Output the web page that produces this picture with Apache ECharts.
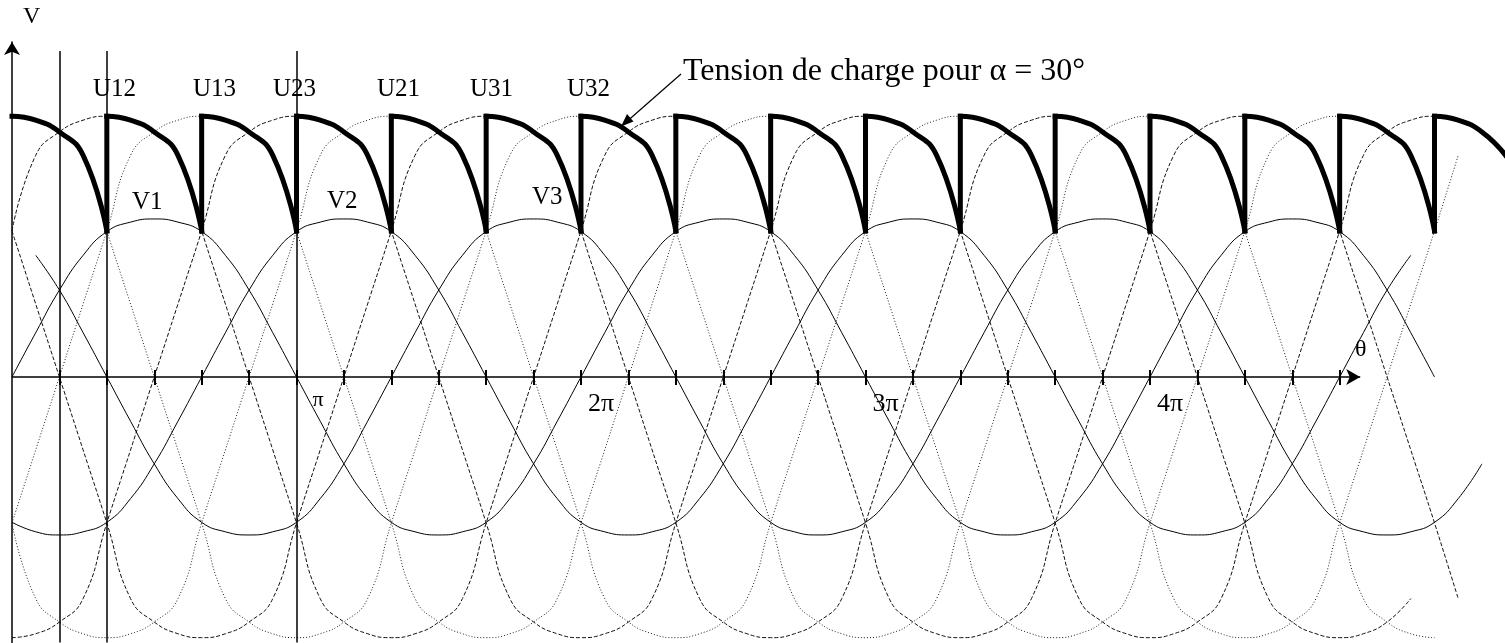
<!DOCTYPE html>
<html>
<head>
<meta charset="utf-8">
<title>Pont triphasé – tension de charge</title>
<script src="https://cdn.jsdelivr.net/npm/echarts@6/dist/echarts.min.js"></script>
<style>
  html, body { margin: 0; padding: 0; background: #ffffff; }
  #chart { width: 1505px; height: 643px; }
</style>
</head>
<body>
<div id="chart"></div>
<script>
// Shape of one quarter wave, read every 15° from the crest outwards (per unit of crest)
const lineProfile  = [1.00, 0.985, 0.94, 0.85, 0.56, 0.28, 0.00];
const phaseProfile = [1.00, 0.98, 0.92, 0.77, 0.55, 0.28, 0.00];
const lineCrestValue  = 1.65;   // line-voltage crest, in units of the phase crest
const phaseCrestValue = 1.00;

// Line voltages: crest angle (deg) in the first period and traced span (deg)
const lineNames  = ['U12', 'U13', 'U23', 'U21', 'U31', 'U32'];
const lineCrests = [60, 120, 180, 240, 300, 0];
const lineStarts = [0, 0, 0, 0, 0, 0];
const lineEnds   = [915, 900, 945, 915, 885, 900];

// Phase voltages
const phaseNames  = ['V1', 'V2', 'V3'];
const phaseCrests = [90, 210, 330];
const phaseStarts = [0, 0, 15];
const phaseEnds   = [900, 885, 930];

// Firing instants of the bridge for alpha = 30° (deg), and end of the load trace
const firingAngles = [60, 120, 180, 240, 300, 360, 420, 480, 540, 600, 660, 720, 780, 840, 900];
const loadEnd = 945;

// Axis ticks and labels (deg)
const tickAngles = [30, 60, 90, 120, 150, 180, 210, 240, 270, 300, 330, 360, 390, 420,
                    450, 480, 510, 540, 570, 600, 630, 660, 690, 720, 750, 780, 810, 840];
const tickLabelAngles = [180, 360, 540, 720];
const tickLabelTexts  = ['π', '2π', '3π', '4π'];
const thetaAxisEnd = 853;      // where the θ axis arrow sits (deg)

// Vertical construction lines (deg)
const markerAngles = [30, 60, 180];

// ---------------------------------------------------------------------------
const SERIF = '"Liberation Serif", "Times New Roman", "DejaVu Serif", serif';
const X_MAX = 945;
const Y_MIN = -1.68, Y_MAX = 2.12;

// value of a periodic wave (crest at `crest`) at a sample angle, using the quarter-wave table
function profileAt(profile, crest, angle) {
  const d = (((angle - crest) % 360) + 360) % 360;
  const at = (k) => profile[Math.round(k / 15)];
  if (d <= 90)  return at(d);
  if (d <= 180) return -at(180 - d);
  if (d <= 270) return -at(d - 180);
  return at(360 - d);
}

function trace(profile, crestValue, crest, from, to) {
  const pts = [];
  for (let a = from; a <= to; a += 15) pts.push([a, crestValue * profileAt(profile, crest, a)]);
  return pts;
}

const dashedLines = ['U12', 'U23', 'U31'];

const series = [];

lineNames.forEach((name, i) => {
  const dashed = dashedLines.indexOf(name) >= 0;
  series.push({
    name: name,
    type: 'line',
    data: trace(lineProfile, lineCrestValue, lineCrests[i], lineStarts[i], lineEnds[i]),
    smooth: 0.5,
    showSymbol: false,
    symbol: 'none',
    silent: true,
    z: 2,
    lineStyle: dashed
      ? { color: '#111', width: 1, type: [4, 2] }
      : { color: '#222', width: 1, type: [1, 2] }
  });
});

phaseNames.forEach((name, i) => {
  series.push({
    name: name,
    type: 'line',
    data: trace(phaseProfile, phaseCrestValue, phaseCrests[i], phaseStarts[i], phaseEnds[i]),
    smooth: 0.5,
    showSymbol: false,
    symbol: 'none',
    silent: true,
    z: 3,
    lineStyle: { color: '#000', width: 1 }
  });
});

// Load voltage: descending part of each conducting line voltage, cut at each firing
const segStarts = [0].concat(firingAngles);
const loadArcs = [];
segStarts.forEach((s, i) => {
  const e = i < firingAngles.length ? firingAngles[i] : loadEnd;
  for (let a = s; a <= e; a += 15) {
    loadArcs.push([a, lineCrestValue * lineProfile[Math.round((a - s) / 15)]]);
  }
  loadArcs.push(['-', '-']);
});

// Load voltage: jump to the next line voltage at each firing
const loadSteps = [];
firingAngles.forEach((f) => {
  loadSteps.push([f, lineCrestValue * lineProfile[4]], [f, lineCrestValue], ['-', '-']);
});

series.push({
  name: 'Tension de charge',
  type: 'line',
  data: loadArcs,
  smooth: 0.5,
  connectNulls: false,
  showSymbol: false,
  symbol: 'none',
  silent: true,
  z: 5,
  lineStyle: { color: '#000', width: 5, cap: 'square', join: 'miter' }
});

// θ axis line with its arrow, and the vertical construction lines
const axisAndMarkers = [
  [
    { coord: [0, 0], symbol: 'none' },
    { coord: [thetaAxisEnd, 0], symbol: 'arrow', symbolSize: [12, 14] }
  ]
].concat(markerAngles.map((a) => [
  { coord: [a, 2.063], symbol: 'none' },
  { coord: [a, Y_MIN], symbol: 'none' }
]));

series.push({
  name: 'Commutations',
  type: 'line',
  data: loadSteps,
  smooth: false,
  connectNulls: false,
  showSymbol: false,
  symbol: 'none',
  silent: true,
  z: 5,
  lineStyle: { color: '#000', width: 5, cap: 'square', join: 'miter' },
  markLine: {
    silent: true,
    symbol: ['none', 'none'],
    label: { show: false },
    animation: false,
    lineStyle: { color: '#000', width: 1.5, type: 'solid' },
    data: axisAndMarkers
  }
});

function textEl(text, x, y, size) {
  return {
    type: 'text',
    silent: true,
    z: 20,
    style: {
      text: text,
      x: x,
      y: y,
      fill: '#000',
      font: size + 'px ' + SERIF,
      textAlign: 'left',
      textVerticalAlign: 'middle'
    }
  };
}

const graphic = [
  textEl('V', 23, 16.5, 24),
  textEl('U12', 93, 89, 25),
  textEl('U13', 193, 89, 25),
  textEl('U23', 273, 89, 25),
  textEl('U21', 377, 89, 25),
  textEl('U31', 470, 89, 25),
  textEl('U32', 567, 89, 25),
  textEl('V1', 132, 202.5, 25),
  textEl('V2', 327, 201, 25),
  textEl('V3', 532, 197.5, 25),
  textEl('θ', 1355, 350, 24),
  textEl('Tension de charge pour α = 30°', 683, 71.5, 32),
  {
    type: 'line',
    silent: true,
    z: 20,
    shape: { x1: 681, y1: 74, x2: 628, y2: 120.5 },
    style: { stroke: '#000', lineWidth: 1.2 }
  },
  {
    type: 'polygon',
    silent: true,
    z: 20,
    shape: { points: [[621, 126.5], [633.5, 121.5], [627, 114]] },
    style: { fill: '#000' }
  }
];

const option = {
  backgroundColor: '#ffffff',
  animation: false,
  textStyle: { fontFamily: SERIF },
  grid: {
    left: 12,
    top: 42,
    width: X_MAX * 284.5 / 180,
    height: (Y_MAX - Y_MIN) * 158,
    containLabel: false,
    outerBoundsMode: 'none'
  },
  xAxis: [
    {
      // ticks below the θ axis
      type: 'value',
      min: 0,
      max: X_MAX,
      interval: 30,
      axisLine: { show: true, onZero: true, lineStyle: { color: '#000', width: 0, opacity: 0 } },
      axisTick: {
        show: true,
        length: 8,
        customValues: tickAngles,
        lineStyle: { color: '#000', width: 2 }
      },
      axisLabel: { show: false },
      splitLine: { show: false }
    },
    {
      // ticks above the θ axis
      type: 'value',
      position: 'bottom',
      min: 0,
      max: X_MAX,
      interval: 30,
      axisLine: { show: true, onZero: true, onZeroAxisIndex: 0, lineStyle: { color: '#000', width: 0, opacity: 0 } },
      axisTick: {
        show: true,
        inside: true,
        length: 7,
        customValues: tickAngles,
        lineStyle: { color: '#000', width: 2 }
      },
      axisLabel: { show: false },
      splitLine: { show: false }
    }
  ],
  yAxis: {
    type: 'value',
    min: Y_MIN,
    max: Y_MAX,
    axisLine: {
      show: true,
      onZero: false,
      symbol: ['none', 'arrow'],
      symbolSize: [12, 13],
      lineStyle: { color: '#000', width: 1.5 }
    },
    axisTick: { show: false },
    axisLabel: { show: false },
    splitLine: { show: false }
  },
  graphic: graphic,
  series: series
};

const chart = echarts.init(document.getElementById('chart'), null, { renderer: 'canvas', width: 1505, height: 643 });
chart.setOption(option);

// π, 2π, 3π, 4π placed under their ticks once the scales are laid out
const graduationTexts = tickLabelAngles.map((a, i) => {
  const p = chart.convertToPixel({ gridIndex: 0 }, [a, 0]);
  const single = tickLabelTexts[i] === 'π';
  return textEl(tickLabelTexts[i], p[0] + (single ? 16 : 7), p[1] + (single ? 23 : 27), single ? 22 : 26);
});
chart.setOption({ graphic: graphic.concat(graduationTexts) });
</script>
</body>
</html>
